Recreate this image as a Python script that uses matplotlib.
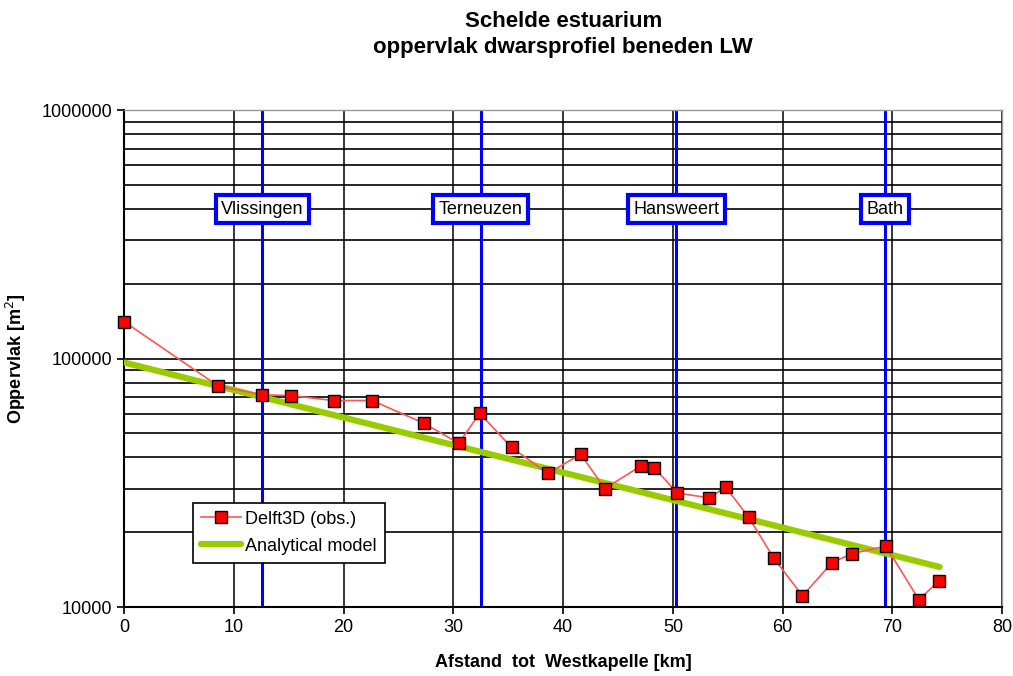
import matplotlib
matplotlib.use("Agg")
import matplotlib.pyplot as plt
from matplotlib.ticker import LogLocator, FixedLocator, NullFormatter

plt.rcParams["font.family"] = ["Liberation Sans", "DejaVu Sans"]

# Delft3D observaties
afstand = [0, 8.6, 12.6, 15.2, 19.1, 22.6, 27.3, 30.5, 32.4, 35.3, 38.6,
           41.6, 43.8, 47.1, 48.3, 50.4, 53.3, 54.8, 56.9, 59.2, 61.8,
           64.5, 66.3, 69.4, 72.4, 74.2]
oppervlak = [141000, 77500, 71500, 71000, 67800, 67800, 55000, 45600, 60300,
             43900, 34500, 41200, 30000, 37000, 36300, 28800, 27500, 30400,
             23000, 15700, 11100, 15100, 16400, 17600, 10700, 12700]

# analytisch model (rechte lijn op log-schaal)
model_x = [0, 74.3]
model_y = [96500, 14500]

# locaties
plaatsen = ["Vlissingen", "Terneuzen", "Hansweert", "Bath"]
plaats_km = [12.6, 32.5, 50.3, 69.3]

fig = plt.figure(figsize=(10.13, 6.76), dpi=100)
ax = fig.add_axes([0.1224, 0.102, 0.867, 0.735])

ax.set_yscale("log")
ax.set_xlim(0, 80)
ax.set_ylim(10000, 1000000)

# grid
ax.yaxis.set_major_locator(FixedLocator([1e4, 1e5, 1e6]))
ax.yaxis.set_minor_locator(LogLocator(base=10, subs=range(2, 10)))
ax.yaxis.set_minor_formatter(NullFormatter())
ax.set_yticks([1e4, 1e5, 1e6])
ax.set_yticklabels(["10000", "100000", "1000000"])
ax.set_xticks(range(0, 81, 10))
ax.grid(True, which="both", axis="y", color="black", linewidth=1.2)
ax.grid(True, which="major", axis="x", color="black", linewidth=1.1)
ax.tick_params(axis="y", which="minor", length=0)
ax.tick_params(axis="both", which="major", direction="out", length=5,
               width=1.2, labelsize=13, colors="black")
ax.set_axisbelow(True)

for s in ["top", "right"]:
    ax.spines[s].set_color("#999999")
    ax.spines[s].set_linewidth(1)
for s in ["left", "bottom"]:
    ax.spines[s].set_linewidth(1.5)

# locatielijnen en labels
for naam, km in zip(plaatsen, plaats_km):
    ax.axvline(km, color="#0000ff", linewidth=2.2, zorder=2)
    ax.text(km, 400000, naam, ha="center", va="center", fontsize=13, zorder=5,
            bbox=dict(boxstyle="square,pad=0.3", facecolor="white",
                      edgecolor="#0000ff", linewidth=3))

ax.plot(afstand, oppervlak, color="#ff5555", linewidth=1.2, marker="s",
        markersize=8, markerfacecolor="#ff0000", markeredgecolor="black",
        markeredgewidth=1, label="Delft3D (obs.)", zorder=4, clip_on=False)
ax.plot(model_x, model_y, color="#99cc00", linewidth=4.5,
        label="Analytical model", zorder=3, solid_capstyle="round")

leg = ax.legend(loc="lower left", bbox_to_anchor=(0.079, 0.089), fontsize=13,
                fancybox=False, framealpha=1, edgecolor="black",
                borderpad=0.45, handlelength=2.2, handletextpad=0.2,
                labelspacing=0.55, borderaxespad=0)
leg.get_frame().set_linewidth(1.2)

ax.set_xlabel("Afstand  tot  Westkapelle [km]", fontsize=13, fontweight="bold",
              labelpad=13)
ax.set_ylabel("Oppervlak [m$^2$]", fontsize=13, fontweight="bold", labelpad=10)
ax.set_title("Schelde estuarium\noppervlak dwarsprofiel beneden LW",
             fontsize=16, fontweight="bold", pad=41, linespacing=1.3)

fig.savefig("out.png", dpi=100)
